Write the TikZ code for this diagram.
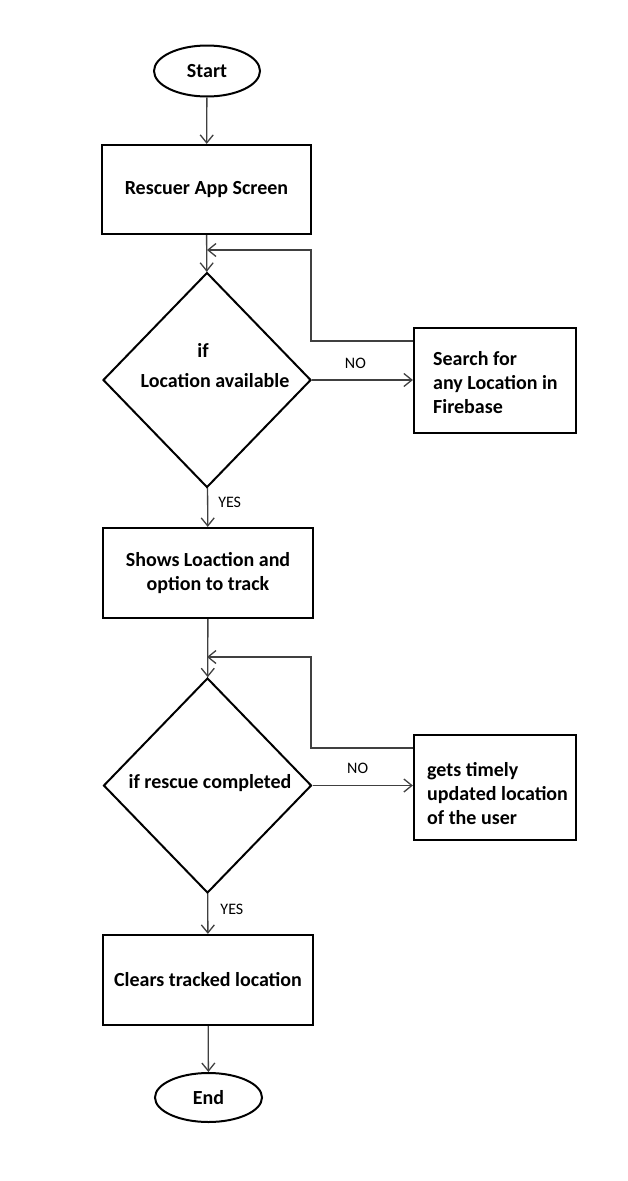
\documentclass[tikz,border=0pt]{standalone}
\usepackage{fontspec}
\setmainfont{Carlito}
\usetikzlibrary{shapes.geometric,arrows.meta}
\begin{document}
\begin{tikzpicture}[x=1pt,y=-1pt,
  bfont/.style={font=\bfseries\fontsize{20}{24}\selectfont},
  box/.style={draw=black, line width=2.2pt, inner sep=0pt, bfont, align=center},
  term/.style={ellipse, draw=black, line width=2pt, inner sep=0pt, bfont},
  dia/.style={diamond, draw=black, line width=2pt, inner sep=0pt, minimum width=208pt, minimum height=215pt},
  txt/.style={bfont, inner sep=0pt},
  conn/.style={draw=black!75, line width=1.3pt, -{Straight Barb[length=8pt,width=13pt]}},
  lab/.style={font=\fontsize{16}{18}\selectfont, inner sep=0pt, text=black}
]
\useasboundingbox (0,0) rectangle (628,1181);
\node[term, minimum width=106pt, minimum height=51pt] (start) at (207,71) {Start};
\node[box, minimum width=209pt, minimum height=89pt] (b1) at (206.5,189.5) {Rescuer App Screen};
\node[dia] (d1) at (207,380) {};
\node[txt] (t1a) at (203,350) {if};
\node[txt] (t1b) at (215,381) {Location available};
\node[box, minimum width=162pt, minimum height=105pt] (s1) at (495,380.5) {};
\node[txt, align=left, anchor=west] (t1c) at (433,383) {Search for\\any Location in\\Firebase};
\node[box, minimum width=210pt, minimum height=90pt] (b2) at (208,573) {Shows Loaction and\\option to track};
\node[dia] (d2) at (207.5,785.5) {};
\node[txt] (t2a) at (210,783) {if rescue completed};
\node[box, minimum width=162pt, minimum height=105pt] (s2) at (495,787.5) {};
\node[txt, align=left, anchor=west] (t2c) at (427,794) {gets timely\\updated location\\of the user};
\node[box, minimum width=210pt, minimum height=90pt] (b3) at (208,980) {Clears tracked location};
\node[term, minimum width=107pt, minimum height=49pt] (end) at (208.5,1097.5) {End};

\coordinate (j1) at (207,250);
\coordinate (k1) at (311,250);
\coordinate (j2) at (207,657);
\coordinate (k2) at (311,657);

\draw[conn] (start) -- (b1);
\draw[conn] (b1) -- (d1);
\draw[conn] ([yshift=-14pt]s1.north west) -| (k1) -- (j1);
\draw[conn] (d1.east) -- node[lab, pos=0.43, above=11pt] {NO} (d1.east -| s1.west);
\draw[conn] (d1) -- node[lab, pos=0.38, right=10pt] {YES} (b2);
\draw[conn] (b2) -- (d2);
\draw[conn] ([yshift=-14pt]s2.north west) -| (k2) -- (j2);
\draw[conn] (d2.east) -- node[lab, pos=0.45, above=11pt] {NO} (d2.east -| s2.west);
\draw[conn] (d2) -- node[lab, pos=0.4, right=12pt] {YES} (b3);
\draw[conn] (b3) -- (end);
\end{tikzpicture}
\end{document}
